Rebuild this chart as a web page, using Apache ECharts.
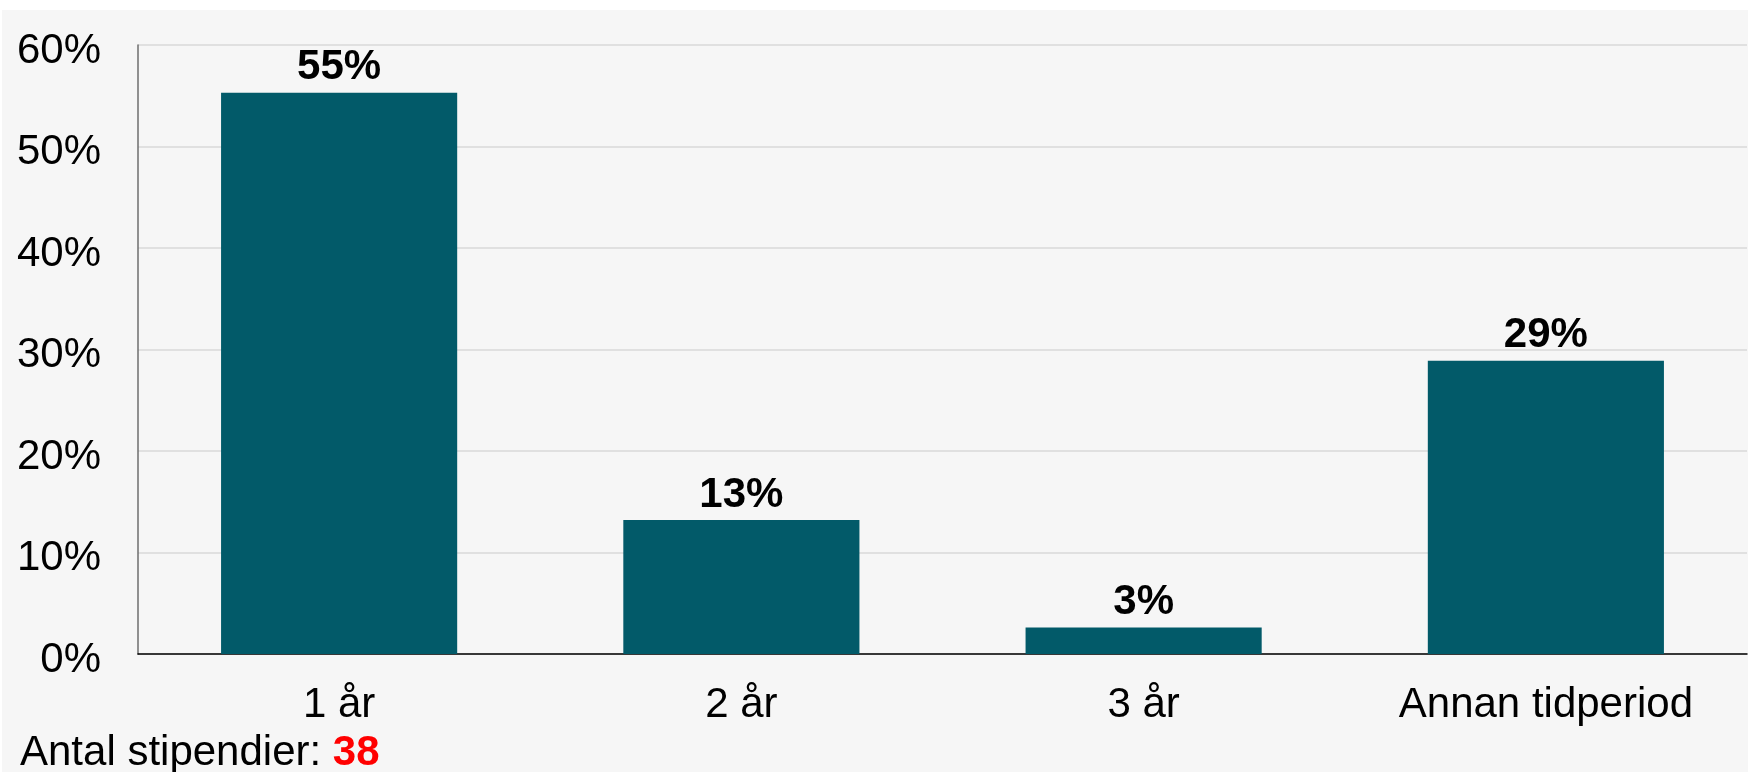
<!DOCTYPE html>
<html>
<head>
<meta charset="utf-8">
<script src="https://cdn.jsdelivr.net/npm/echarts@6/dist/echarts.min.js"></script>
<style>
  html, body { margin: 0; padding: 0; background: #ffffff; }
  #chart {
    position: absolute;
    left: 2px;
    top: 10px;
    width: 1746px;
    height: 762px;
    background: #f6f6f6;
  }
</style>
</head>
<body>
<div id="chart"></div>
<script>
// kategorier och andelar (%)
var categories = ["1 år", "2 år", "3 år", "Annan tidperiod"];
var shares = [55.3, 13.2, 2.6, 28.9];
var yTicks = [0, 10, 20, 30, 40, 50, 60];
var antalStipendier = 38;

var FONT = "Liberation Sans, Arial, sans-serif";

var chart = echarts.init(document.getElementById("chart"));

chart.setOption({
  backgroundColor: "#f6f6f6",
  animation: false,
  textStyle: { fontFamily: FONT },
  grid: {
    left: 136,
    right: 1,
    top: 35,
    bottom: 118,
    containLabel: false
  },
  xAxis: {
    type: "category",
    data: categories,
    axisTick: { show: false },
    axisLine: { lineStyle: { color: "#000", width: 1.5 } },
    axisLabel: {
      color: "#000",
      fontSize: 42,
      margin: 30
    }
  },
  yAxis: {
    type: "value",
    min: yTicks[0],
    max: yTicks[yTicks.length - 1],
    interval: 10,
    axisLine: { show: true, lineStyle: { color: "#6e6e6e", width: 1.5 } },
    axisTick: { show: false },
    splitLine: { lineStyle: { color: "#d9d9d9", width: 1.5 } },
    axisLabel: {
      color: "#000",
      fontSize: 42,
      margin: 37,
      formatter: "{v|{value}%}",
      rich: {
        v: { fontSize: 42, color: "#000", fontFamily: FONT, padding: [12, 0, 0, 0] }
      }
    }
  },
  series: [
    {
      type: "bar",
      data: shares,
      barWidth: "58.7%",
      itemStyle: { color: "#025a69" },
      label: {
        show: true,
        position: "top",
        distance: 4,
        color: "#000",
        fontSize: 42,
        fontWeight: "bold",
        formatter: function (p) {
          return Math.round(p.value) + "%";
        }
      }
    }
  ],
  graphic: [
    {
      type: "text",
      left: 18,
      top: 722,
      style: {
        text: "{a|Antal stipendier: }{b|" + antalStipendier + "}",
        rich: {
          a: { fontSize: 42, fill: "#000", fontFamily: FONT },
          b: { fontSize: 42, fill: "#ff0000", fontWeight: "bold", fontFamily: FONT }
        }
      }
    }
  ]
});
</script>
</body>
</html>
